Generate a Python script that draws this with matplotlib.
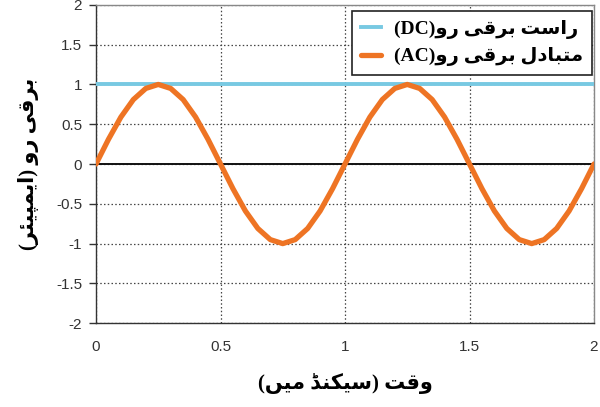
import numpy as np
import matplotlib
matplotlib.use("Agg")
import matplotlib.pyplot as plt
from matplotlib import font_manager
from matplotlib.ft2font import FT2Font

# ---------------- data ----------------
time_ticks = [0, 0.5, 1, 1.5, 2]
time_tick_labels = ["0", "0.5", "1", "1.5", "2"]
current_ticks = [2, 1.5, 1, 0.5, 0, -0.5, -1, -1.5, -2]
current_tick_labels = ["2", "1.5", "1", "0.5", "0", "-0.5", "-1", "-1.5", "-2"]

dc_time = [0, 2]
dc_current = [1, 1]

ac_time = [0.00, 0.05, 0.10, 0.15, 0.20, 0.25, 0.30, 0.35, 0.40, 0.45,
           0.50, 0.55, 0.60, 0.65, 0.70, 0.75, 0.80, 0.85, 0.90, 0.95,
           1.00, 1.05, 1.10, 1.15, 1.20, 1.25, 1.30, 1.35, 1.40, 1.45,
           1.50, 1.55, 1.60, 1.65, 1.70, 1.75, 1.80, 1.85, 1.90, 1.95, 2.00]
ac_current = [0.00, 0.31, 0.59, 0.81, 0.95, 1.00, 0.95, 0.81, 0.59, 0.31,
              0.00, -0.31, -0.59, -0.81, -0.95, -1.00, -0.95, -0.81, -0.59, -0.31,
              0.00, 0.31, 0.59, 0.81, 0.95, 1.00, 0.95, 0.81, 0.59, 0.31,
              0.00, -0.31, -0.59, -0.81, -0.95, -1.00, -0.95, -0.81, -0.59, -0.31,
              0.00]

dc_label_ar = "راست برقی رو"
ac_label_ar = "متبادل برقی رو"
dc_label_latin = "(DC)"
ac_label_latin = "(AC)"
y_label_ar = "برقی رو (ایمپیئر)"
x_label_ar = "وقت (سیکنڈ میں)"

# ---------------- simple Arabic/Urdu shaping ----------------
FORMS = {
    'ا': (0xFE8D, 0xFE8E, None, None),
    'ب': (0xFE8F, 0xFE90, 0xFE91, 0xFE92),
    'ت': (0xFE95, 0xFE96, 0xFE97, 0xFE98),
    'د': (0xFEA9, 0xFEAA, None, None),
    'ر': (0xFEAD, 0xFEAE, None, None),
    'س': (0xFEB1, 0xFEB2, 0xFEB3, 0xFEB4),
    'ق': (0xFED5, 0xFED6, 0xFED7, 0xFED8),
    'ل': (0xFEDD, 0xFEDE, 0xFEDF, 0xFEE0),
    'م': (0xFEE1, 0xFEE2, 0xFEE3, 0xFEE4),
    'ن': (0xFEE5, 0xFEE6, 0xFEE7, 0xFEE8),
    'و': (0xFEED, 0xFEEE, None, None),
    'ئ': (0xFE89, 0xFE8A, 0xFE8B, 0xFE8C),
    'پ': (0xFB56, 0xFB57, 0xFB58, 0xFB59),
    'ڈ': (0xFB88, 0xFB89, None, None),
    'ک': (0xFB8E, 0xFB8F, 0xFB90, 0xFB91),
    'ں': (0xFB9E, 0xFB9F, 0xFEE7, 0xFEE8),
    'ی': (0xFBFC, 0xFBFD, 0xFBFE, 0xFBFF),
}
_font = FT2Font(font_manager.findfont("DejaVu Sans"))


def _has(cp):
    return cp is not None and _font.get_char_index(cp) != 0


def _dual(c):
    return c in FORMS and FORMS[c][2] is not None


def shape_logical(s):
    out = []
    for i, c in enumerate(s):
        if c not in FORMS:
            out.append(c)
            continue
        prev = s[i - 1] if i > 0 else ''
        nxt = s[i + 1] if i + 1 < len(s) else ''
        jp = _dual(prev)
        jn = _dual(c) and nxt in FORMS
        iso, fin, ini, med = FORMS[c]
        if jp and jn:
            cp = med
        elif jp:
            cp = fin
        elif jn:
            cp = ini
        else:
            cp = iso
        out.append(chr(cp) if _has(cp) else c)
    return ''.join(out)


def vis(s):
    mirror = {'(': ')', ')': '('}
    return ''.join(mirror.get(c, c) for c in reversed(shape_logical(s)))


# ---------------- plot ----------------
fig = plt.figure(figsize=(6.0, 4.07), dpi=100)
ax = fig.add_axes([0.16, 0.206, 0.83, 0.782])

tick_font = ['Liberation Sans', 'DejaVu Sans']
ar_font = ['Liberation Serif', 'DejaVu Sans']

ax.set_xlim(time_ticks[0], time_ticks[-1])
ax.set_ylim(min(current_ticks), max(current_ticks))
ax.set_xticks(time_ticks)
ax.set_xticklabels(time_tick_labels, family=tick_font, fontsize=11, color='#333333')
ax.set_yticks(current_ticks)
ax.set_yticklabels(current_tick_labels, family=tick_font, fontsize=11, color='#333333')
ax.tick_params(axis='x', length=0, pad=12)
ax.tick_params(axis='y', length=5, width=1, direction='out', pad=5, color='#333333')

ax.grid(True, linestyle=(0, (1.2, 1.8)), color='#444444', linewidth=0.9)
for side in ['top', 'right']:
    ax.spines[side].set_color('#888888')
    ax.spines[side].set_linewidth(1.0)
for side in ['left', 'bottom']:
    ax.spines[side].set_color('#333333')
    ax.spines[side].set_linewidth(1.0)

ax.axhline(0, color='#111111', linewidth=1.4, zorder=2)

ax.plot(dc_time, dc_current, color='#78C9E2', linewidth=2.8, zorder=3,
        label=dc_label_latin + vis(dc_label_ar))
ax.plot(ac_time, ac_current, color='#EE7424', linewidth=3.8, zorder=4,
        solid_joinstyle='round', solid_capstyle='round',
        label=ac_label_latin + vis(ac_label_ar))

leg = ax.legend(loc='upper right', bbox_to_anchor=(592 / 600, 1 - 11 / 407),
                bbox_transform=fig.transFigure, borderaxespad=0,
                prop={'family': ar_font, 'weight': 'bold', 'size': 14},
                frameon=True, fancybox=False, framealpha=1, edgecolor='#222222',
                handlelength=1.0, handletextpad=0.7, labelspacing=0.45,
                borderpad=0.45)
leg.get_frame().set_linewidth(1.2)
leg.set_zorder(10)

ax.set_ylabel(vis(y_label_ar), family=ar_font, fontsize=15, fontweight='bold',
              labelpad=12)
ax.set_xlabel(vis(x_label_ar), family=ar_font, fontsize=15, fontweight='bold',
              labelpad=14)

fig.savefig("out.png", dpi=100)
